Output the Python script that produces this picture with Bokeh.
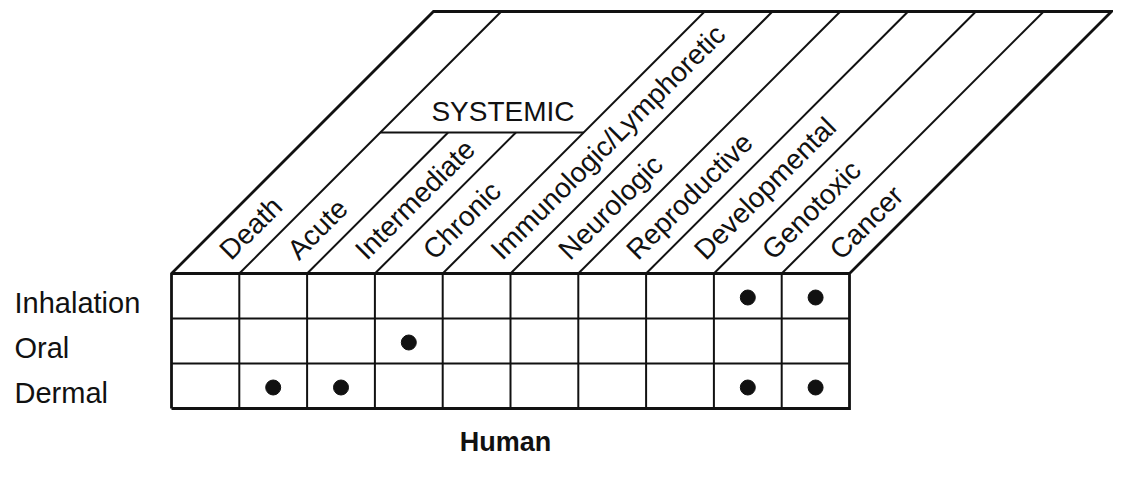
import math
from bokeh.plotting import figure
from bokeh.models import Range1d, ColumnDataSource
from bokeh.embed import file_html
from bokeh.resources import INLINE
from bokeh.core.properties import value

# ---------------- data ----------------
endpoints = ["Death", "Acute", "Intermediate", "Chronic", "Immunologic/Lymphoretic",
             "Neurologic", "Reproductive", "Developmental", "Genotoxic", "Cancer"]
routes = ["Inhalation", "Oral", "Dermal"]
systemic_group = ["Acute", "Intermediate", "Chronic"]
group_label = "SYSTEMIC"
dot_routes = ["Inhalation", "Inhalation", "Oral", "Dermal", "Dermal", "Dermal", "Dermal"]
dot_endpoints = ["Genotoxic", "Cancer", "Chronic", "Acute", "Intermediate", "Genotoxic", "Cancer"]
species = "Human"

# ---------------- layout (style only) ----------------
PX = 67.8                 # pixels per column unit
RH = 45 / PX              # row height
HH = 262 / PX             # header height
SH = 141 / PX             # height of the SYSTEMIC dividing line
W, H = 1113, 461
GX, GY = 171, 273         # grid top-left corner in figure pixels
FONT = "Liberation Sans"
INK = "#111111"

ncol = len(endpoints)
nrow = len(routes)

p = figure(width=W, height=H, output_backend="svg", toolbar_location=None,
           x_range=Range1d(-GX / PX, (W - GX) / PX),
           y_range=Range1d(-(H - GY) / PX, GY / PX),
           min_border=0, outline_line_color=None, tools="")
p.axis.visible = False
p.grid.visible = False
p.background_fill_color = "white"
p.border_fill_color = "white"

# inner lines
ixs, iys = [], []
for r in range(1, nrow):
    ixs.append([0, ncol]); iys.append([-r * RH, -r * RH])
for k in range(1, ncol):
    ixs.append([k, k]); iys.append([0, -nrow * RH])
    both_sys = endpoints[k - 1] in systemic_group and endpoints[k] in systemic_group
    L = SH if both_sys else HH
    ixs.append([k, k + L]); iys.append([0, L])
g0 = endpoints.index(systemic_group[0])
g1 = endpoints.index(systemic_group[-1]) + 1
ixs.append([g0 + SH, g1 + SH]); iys.append([SH, SH])
p.multi_line(xs=ixs, ys=iys, line_color=INK, line_width=2.0)

# outer frame
oxs = [[0, 0, HH, ncol + HH, ncol, ncol, 0], [0, ncol]]
oys = [[-nrow * RH, 0, HH, HH, 0, -nrow * RH, -nrow * RH], [0, 0]]
p.multi_line(xs=oxs, ys=oys, line_color=INK, line_width=2.8, line_join="miter")

# dots
dsrc = ColumnDataSource(dict(
    x=[endpoints.index(e) + 0.5 for e in dot_endpoints],
    y=[-(routes.index(r) + 0.5) * RH - 1.5 / PX for r in dot_routes]))
p.scatter("x", "y", source=dsrc, size=15, color=INK)

# column labels (slanted)
T = 19 / PX
csrc = ColumnDataSource(dict(x=[k + 0.5 + T for k in range(ncol)],
                             y=[T] * ncol, t=endpoints))
p.text("x", "y", text="t", source=csrc, angle=math.pi / 4,
       text_align="left", text_baseline="middle",
       text_font=value(FONT), text_font_size="28px", text_color=INK)

# row labels
rsrc = ColumnDataSource(dict(x=[-157 / PX] * nrow,
                             y=[-(i + 0.5) * RH - 7 / PX for i in range(nrow)],
                             t=routes))
p.text("x", "y", text="t", source=rsrc, text_align="left", text_baseline="middle",
       text_font=value(FONT), text_font_size="29px", text_color=INK)

# group label
ymid = SH + 21 / PX
p.text(x=[(g0 + g1) / 2 + ymid], y=[ymid], text=[group_label],
       text_align="center", text_baseline="middle",
       text_font=value(FONT), text_font_size="28px", text_color=INK)

# species label
p.text(x=[ncol / 2 - 5 / PX], y=[-168 / PX], text=[species],
       text_align="center", text_baseline="alphabetic",
       text_font=value(FONT), text_font_size="27px", text_font_style="bold",
       text_color=INK)

open("out.html", "w").write(file_html(p, INLINE))
